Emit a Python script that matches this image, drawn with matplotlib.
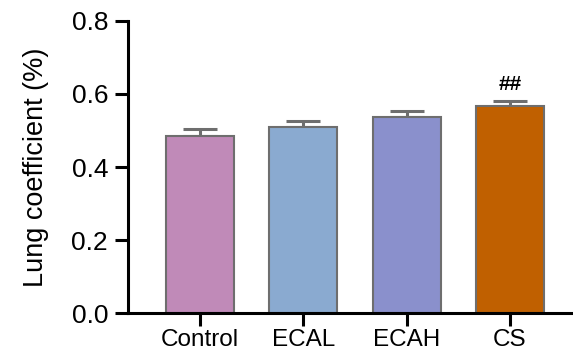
import numpy as np
import matplotlib.pyplot as plt

plt.rcParams['font.family'] = ['Liberation Sans', 'DejaVu Sans']

groups = ["Control", "ECAL", "ECAH", "CS"]
means = [0.485, 0.510, 0.536, 0.567]
errs = [0.020, 0.017, 0.018, 0.013]
colors = ["#C08AB8", "#8AAAD0", "#8A90CC", "#C06000"]
marks = ["", "", "", "##"]

fig = plt.figure(figsize=(5.73, 3.52), dpi=100)
ax = fig.add_axes([0.2234, 0.11, 0.7766, 0.831])

x = np.arange(len(groups))
ax.bar(x, means, width=0.66, color=colors, edgecolor="#6e6e6e", linewidth=1.5, zorder=2)
ax.errorbar(x, means, yerr=[np.zeros(len(errs)), errs], fmt="none",
            ecolor="#6e6e6e", elinewidth=2.2, capsize=12, capthick=2.2, zorder=1)

for xi, m, e, s in zip(x, means, errs, marks):
    if s:
        ax.text(xi, m + e + 0.02, s, ha="center", va="bottom", fontsize=15, fontweight="bold")

ax.set_xlim(-0.697, 3.61)
ax.set_ylim(0, 0.8)
ax.set_yticks([0.0, 0.2, 0.4, 0.6, 0.8])
ax.set_yticklabels(["0.0", "0.2", "0.4", "0.6", "0.8"])
ax.set_xticks(x)
ax.set_xticklabels(groups)
ax.set_ylabel("Lung coefficient (%)", fontsize=19.5, labelpad=16)

ax.spines["top"].set_visible(False)
ax.spines["right"].set_visible(False)
ax.spines["left"].set_linewidth(2.2)
ax.spines["bottom"].set_linewidth(2.2)
ax.tick_params(axis="y", width=2.2, length=9.4, labelsize=19, pad=5)
ax.tick_params(axis="x", width=2.2, length=9, labelsize=17.5, pad=2.5)

fig.savefig("out.png", dpi=100)
